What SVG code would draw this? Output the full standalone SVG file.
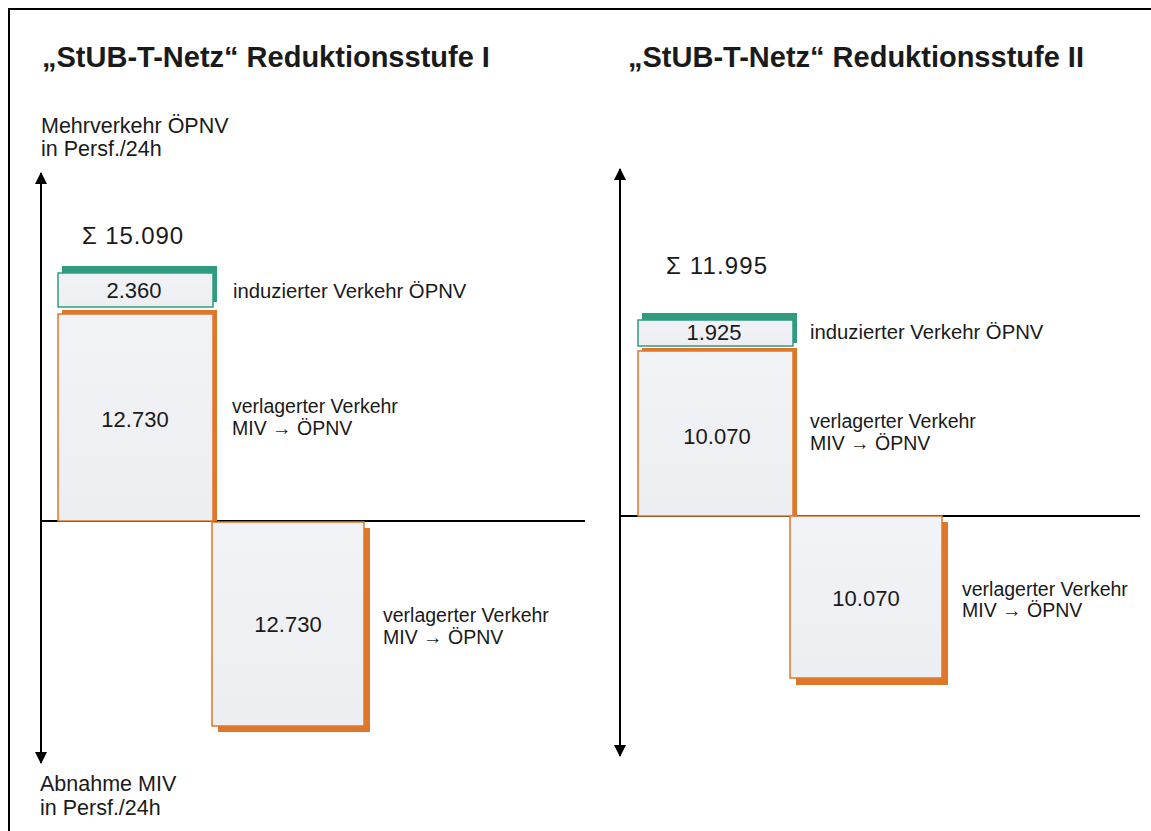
<svg xmlns="http://www.w3.org/2000/svg" width="1151" height="831" viewBox="0 0 1151 831">
<defs>
<linearGradient id="fillg" x1="0" y1="0" x2="0" y2="1">
<stop offset="0" stop-color="#f1f3f6"/>
<stop offset="1" stop-color="#eceef1"/>
</linearGradient>
<marker id="arr" viewBox="0 0 12 14" refX="11" refY="7" markerWidth="12" markerHeight="14" markerUnits="userSpaceOnUse" orient="auto">
<path d="M0,1 L12,7 L0,13 Z" fill="#000"/>
</marker>
</defs>
<style>
text{font-family:"Liberation Sans",Arial,sans-serif;fill:#1a1a1a}
.title{font-size:29px;font-weight:bold}
.ax{font-size:21.5px}
.val{font-size:22px;text-anchor:middle}
.lbl{font-size:19.5px}
.ind{font-size:20.3px}
.sum{font-size:24px}
.shg{fill:#2f9c80}
.sho{fill:#df772b}
.fg{fill:url(#fillg);stroke:#2f9c80;stroke-width:1.5}
.fo{fill:url(#fillg);stroke:#df772b;stroke-width:1.5}
.axis{stroke:#000;stroke-width:2;fill:none}
</style>
<rect x="0" y="0" width="1151" height="831" fill="#fff"/>
<path d="M9,831 V9 H1151" fill="none" stroke="#000" stroke-width="2"/>

<text class="title" x="42" y="67">„StUB-T-Netz“ Reduktionsstufe I</text>
<text class="title" x="628" y="67">„StUB-T-Netz“ Reduktionsstufe II</text>

<g id="connectors">
<line class="axis" x1="41" y1="521" x2="41" y2="173" marker-end="url(#arr)"/>
<line class="axis" x1="41" y1="521" x2="41" y2="763" marker-end="url(#arr)"/>
<line class="axis" x1="41" y1="521" x2="585" y2="521"/>
<line class="axis" x1="620" y1="516" x2="620" y2="169" marker-end="url(#arr)"/>
<line class="axis" x1="620" y1="516" x2="620" y2="756" marker-end="url(#arr)"/>
<line class="axis" x1="620" y1="516" x2="1140" y2="516"/>
</g>

<g id="axis-labels">
<text class="ax" x="41" y="133">Mehrverkehr ÖPNV</text>
<text class="ax" x="41" y="156">in Persf./24h</text>
<text class="ax" x="40" y="791">Abnahme MIV</text>
<text class="ax" x="40" y="815">in Persf./24h</text>
</g>

<g id="sum1"><text class="sum" x="82" y="244" textLength="101">Σ 15.090</text></g>
<g id="sum2"><text class="sum" x="666" y="274" textLength="101">Σ 11.995</text></g>

<g id="box-ind-1">
<rect class="shg" x="62" y="266" width="155" height="36"/>
<rect class="fg" x="58" y="273" width="155" height="34"/>
<text class="val" x="134" y="298">2.360</text>
<text class="ind" x="233" y="298">induzierter Verkehr ÖPNV</text>
</g>

<g id="box-verl-up-1">
<rect class="sho" x="62" y="310" width="155" height="211"/>
<rect class="fo" x="58" y="314" width="155" height="207"/>
<text class="val" x="135" y="427">12.730</text>
<text class="lbl" x="232" y="413">verlagerter Verkehr</text>
<text class="lbl" x="232" y="435">MIV → ÖPNV</text>
</g>

<g id="box-verl-down-1">
<rect class="sho" x="218" y="528" width="152" height="204"/>
<rect class="fo" x="212" y="522" width="152" height="204"/>
<text class="val" x="288" y="632">12.730</text>
<text class="lbl" x="383" y="622">verlagerter Verkehr</text>
<text class="lbl" x="383" y="644">MIV → ÖPNV</text>
</g>

<g id="box-ind-2">
<rect class="shg" x="642" y="313" width="155" height="30"/>
<rect class="fg" x="638" y="320" width="155" height="26"/>
<text class="val" x="714" y="340">1.925</text>
<text class="ind" x="810" y="339">induzierter Verkehr ÖPNV</text>
</g>

<g id="box-verl-up-2">
<rect class="sho" x="642" y="348" width="155" height="168"/>
<rect class="fo" x="638" y="351" width="155" height="165"/>
<text class="val" x="717" y="444">10.070</text>
<text class="lbl" x="810" y="428">verlagerter Verkehr</text>
<text class="lbl" x="810" y="450">MIV → ÖPNV</text>
</g>

<g id="box-verl-down-2">
<rect class="sho" x="796" y="522" width="152" height="163"/>
<rect class="fo" x="790" y="516" width="152" height="162"/>
<text class="val" x="866" y="606">10.070</text>
<text class="lbl" x="962" y="596">verlagerter Verkehr</text>
<text class="lbl" x="962" y="617">MIV → ÖPNV</text>
</g>
</svg>
